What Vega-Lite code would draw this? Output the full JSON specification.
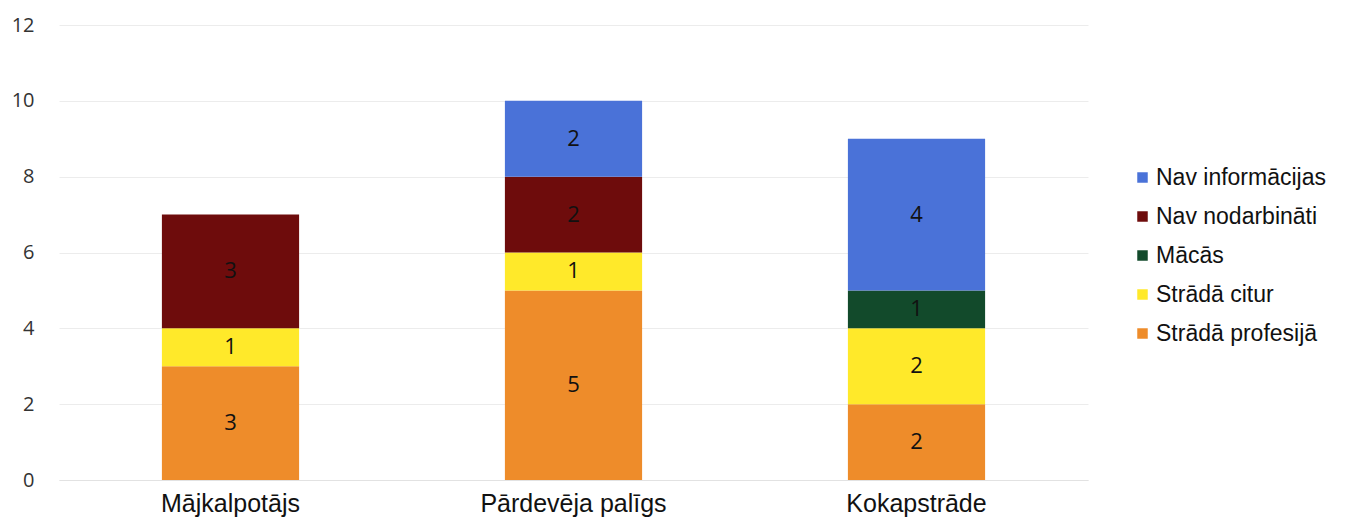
{
  "$schema": "https://vega.github.io/schema/vega-lite/v6.json",
  "width": 1029,
  "height": 455,
  "autosize": {"type": "none"},
  "padding": {"left": 59, "top": 25, "right": 264, "bottom": 46},
  "background": "white",
  "config": {"view": {"stroke": null}},
  "data": {
    "values": [
      {"job": "Mājkalpotājs", "status": "Strādā profesijā", "ord": 1, "n": 3},
      {"job": "Mājkalpotājs", "status": "Strādā citur", "ord": 2, "n": 1},
      {"job": "Mājkalpotājs", "status": "Nav nodarbināti", "ord": 4, "n": 3},
      {"job": "Pārdevēja palīgs", "status": "Strādā profesijā", "ord": 1, "n": 5},
      {"job": "Pārdevēja palīgs", "status": "Strādā citur", "ord": 2, "n": 1},
      {"job": "Pārdevēja palīgs", "status": "Nav nodarbināti", "ord": 4, "n": 2},
      {"job": "Pārdevēja palīgs", "status": "Nav informācijas", "ord": 5, "n": 2},
      {"job": "Kokapstrāde", "status": "Strādā profesijā", "ord": 1, "n": 2},
      {"job": "Kokapstrāde", "status": "Strādā citur", "ord": 2, "n": 2},
      {"job": "Kokapstrāde", "status": "Mācās", "ord": 3, "n": 1},
      {"job": "Kokapstrāde", "status": "Nav informācijas", "ord": 5, "n": 4}
    ]
  },
  "transform": [
    {"stack": "n", "groupby": ["job"], "sort": [{"field": "ord", "order": "ascending"}], "as": ["y0", "y1"]},
    {"calculate": "(datum.y0 + datum.y1) / 2", "as": "ymid"}
  ],
  "encoding": {
    "x": {
      "field": "job",
      "type": "nominal",
      "sort": ["Mājkalpotājs", "Pārdevēja palīgs", "Kokapstrāde"],
      "scale": {"paddingInner": 0.6, "paddingOuter": 0.3},
      "axis": {
        "title": null,
        "labelAngle": 0,
        "labelFont": "Liberation Sans",
        "labelFontSize": 25,
        "labelColor": "#111",
        "labelPadding": 11,
        "labelLimit": 400,
        "ticks": false,
        "domainColor": "#e2e2e2",
        "grid": false
      }
    }
  },
  "layer": [
    {
      "mark": {"type": "bar"},
      "encoding": {
        "y": {
          "field": "y0",
          "type": "quantitative",
          "scale": {"domain": [0, 12]},
          "axis": {
            "title": null,
            "values": [0, 2, 4, 6, 8, 10, 12],
            "labelFont": "Open Sans",
            "labelFontSize": 20,
            "labelColor": "#333",
            "labelPadding": 25,
            "ticks": false,
            "domain": false,
            "gridColor": "#ececec",
            "gridWidth": 1
          }
        },
        "y2": {"field": "y1"},
        "color": {
          "field": "status",
          "type": "nominal",
          "scale": {
            "domain": ["Nav informācijas", "Nav nodarbināti", "Mācās", "Strādā citur", "Strādā profesijā"],
            "range": ["#4A72D8", "#6E0C0C", "#124A2B", "#FFE92A", "#EE8C2A"]
          },
          "legend": {
            "title": null,
            "orient": "none",
            "legendX": 1072,
            "legendY": 141,
            "symbolType": "square",
            "symbolSize": 110,
            "symbolStrokeWidth": 0,
            "labelFont": "Liberation Sans",
            "labelFontSize": 23,
            "labelColor": "#111",
            "labelOffset": 2,
            "rowPadding": 15,
            "labelLimit": 300
          }
        }
      }
    },
    {
      "mark": {"type": "text", "font": "Open Sans", "fontSize": 22, "color": "#111", "baseline": "middle", "align": "center"},
      "encoding": {
        "y": {"field": "ymid", "type": "quantitative"},
        "text": {"field": "n", "type": "quantitative"}
      }
    }
  ]
}
